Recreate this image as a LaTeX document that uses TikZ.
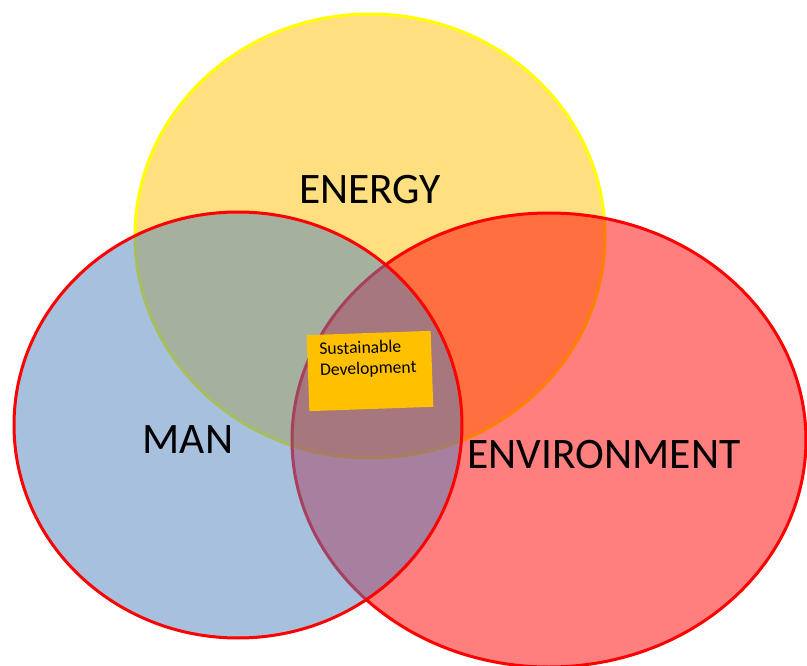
\documentclass[tikz,border=0pt]{standalone}
\usepackage{fontspec}
\setmainfont{Carlito}
\definecolor{enfill}{HTML}{FFC000}
\definecolor{manfill}{HTML}{4F81BD}
\definecolor{envfill}{HTML}{FF0000}
\definecolor{sdfill}{HTML}{FFC000}
\definecolor{lineyellow}{HTML}{FFFF00}
\definecolor{linered}{HTML}{FF0000}
\tikzset{
  venn/.style={line width=3pt, fill opacity=0.5},
  biglabel/.style={font=\fontsize{43.5}{50}\selectfont, inner sep=0pt, text=black},
  sdbox/.style={fill=sdfill, rotate=2, minimum width=124pt, minimum height=76pt, inner sep=0pt},
  sdtext/.style={font=\fontsize{17.6}{21}\selectfont, align=left, rotate=2, inner sep=0pt, text=black}
}
\begin{document}
\begin{tikzpicture}[x=1pt,y=-1pt]
\useasboundingbox (0,0) rectangle (807,666);
% Energy (bottom layer)
\draw[venn, draw=lineyellow, fill=enfill] (370,236) ellipse [x radius=235pt, y radius=222pt];
% Environment
\draw[venn, draw=linered, fill=envfill] (549,440) ellipse [x radius=257pt, y radius=227pt];
% Man (top)
\draw[venn, draw=linered, fill=manfill] (238,425) ellipse [x radius=224pt, y radius=213pt];
% labels
\node[biglabel] (energy) at (370,190) {ENERGY};
\node[biglabel] (man) at (188,440) {MAN};
\node[biglabel] (env) at (604,455) {ENVIRONMENT};
% sustainable development box
\node[sdbox] (sd) at (370,371) {};
\node[sdtext] (sdt) at (368,359) {Sustainable\\Development};
\end{tikzpicture}
\end{document}
